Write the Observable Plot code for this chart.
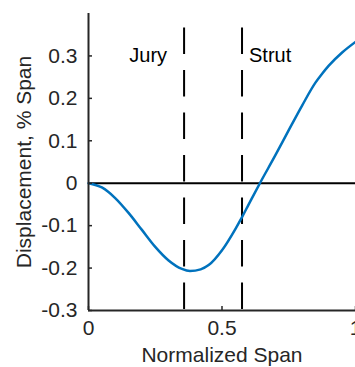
<!DOCTYPE html>
<html>
<head>
<meta charset="utf-8">
<script src="https://cdn.jsdelivr.net/npm/d3@7"></script>
<script src="https://cdn.jsdelivr.net/npm/@observablehq/plot@0.6"></script>
<style>
  html, body { margin: 0; padding: 0; background: #fff; }
  svg { display: block; }
</style>
</head>
<body>
<div id="chart"></div>
<script>
// Data
const spanX = [0, 0.05, 0.1, 0.15, 0.2, 0.25, 0.3, 0.35, 0.38, 0.42, 0.45, 0.5, 0.55, 0.575, 0.6, 0.642, 0.7, 0.75, 0.8, 0.85, 0.875, 0.9, 0.95, 1.0];
const displacement = [0, -0.01, -0.035, -0.07, -0.11, -0.15, -0.182, -0.202, -0.207, -0.203, -0.193, -0.158, -0.108, -0.08, -0.05, 0, 0.066, 0.125, 0.183, 0.237, 0.258, 0.277, 0.308, 0.333];
const markerNames = ["Jury", "Strut"];
const markerX = [0.358, 0.575];
const markerTop = 0.366;
const yTicks = [-0.3, -0.2, -0.1, 0, 0.1, 0.2, 0.3];
const yTickLabels = ["-0.3", "-0.2", "-0.1", "0", "0.1", "0.2", "0.3"];
const xTicks = [0, 0.5, 1];
const xTickLabels = ["0", "0.5", "1"];
const xLabel = "Normalized Span";
const yLabel = "Displacement, % Span";

const curve = spanX.map((x, i) => ({x, y: displacement[i]}));
const markers = markerNames.map((name, i) => ({name, x: markerX[i]}));

const axisColor = "#262626";
const font = "Liberation Sans, Arial, Helvetica, sans-serif";

const W = 355, H = 367, mL = 88, mR = 0, mT = 13, mB = 57;

const chart = Plot.plot({
  width: W,
  height: H,
  marginLeft: mL,
  marginRight: mR,
  marginTop: mT,
  marginBottom: mB,
  style: {fontFamily: font, fontSize: "21px", color: axisColor, background: "#fff"},
  x: {domain: [0, 1]},
  y: {domain: [-0.3, 0.4]},
  marks: [
    // zero line
    Plot.ruleY([0], {stroke: "#000", strokeWidth: 2}),
    // dashed markers
    Plot.ruleX(markers, {x: "x", y1: markerTop, y2: -0.3, stroke: "#000", strokeWidth: 2, strokeDasharray: "26.5,16"}),
    Plot.text(markers.slice(0, 1), {x: "x", y: 0.3, text: "name", textAnchor: "end", dx: -17, fill: "#000", fontSize: 20}),
    Plot.text(markers.slice(1), {x: "x", y: 0.3, text: "name", textAnchor: "start", dx: 7, fill: "#000", fontSize: 20}),
    // curve
    Plot.line(curve, {x: "x", y: "y", stroke: "#0072BD", strokeWidth: 2.5, curve: "monotone-x"}),
    // axis lines
    Plot.ruleX([0], {stroke: axisColor, strokeWidth: 2}),
    Plot.ruleY([-0.3], {stroke: axisColor, strokeWidth: 2}),
    // inward ticks
    Plot.tickY(yTicks, {y: d => d, stroke: axisColor, strokeWidth: 1.5, insetRight: (W - mL - mR) - 4}),
    Plot.tickX(xTicks, {x: d => d, stroke: axisColor, strokeWidth: 1.5, insetTop: (H - mT - mB) - 4}),
    // tick labels
    Plot.axisY({ticks: yTicks, tickSize: 0, tickPadding: 11, tickFormat: (d, i) => yTickLabels[i], fontSize: 21, label: null}),
    Plot.axisX({ticks: xTicks, tickSize: 0, tickPadding: 10, tickFormat: (d, i) => xTickLabels[i], fontSize: 21, label: null}),
    // axis titles
    Plot.text([yLabel], {text: d => d, frameAnchor: "left", rotate: -90, dx: -64, fill: axisColor, fontSize: 21, lineAnchor: "middle", textAnchor: "middle"}),
    Plot.text([xLabel], {text: d => d, frameAnchor: "bottom", dy: 45, fill: axisColor, fontSize: 21, lineAnchor: "middle", textAnchor: "middle"})
  ]
});
document.getElementById("chart").appendChild(chart);
</script>
</body>
</html>
